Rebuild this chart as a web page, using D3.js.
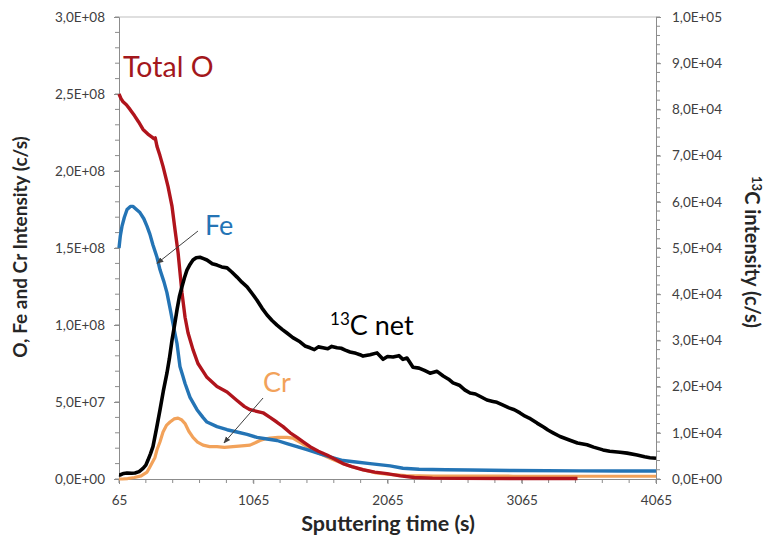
<!DOCTYPE html>
<html><head><meta charset="utf-8">
<script src="https://cdn.jsdelivr.net/npm/d3@7"></script>
<style>
body{margin:0;background:#fff}
text{font-family:Lato,'Open Sans',sans-serif}
</style>
</head><body>
<svg id="chart" width="765" height="539"></svg>
<script>
// ---- Data ----
const timeTicks = [65, 1065, 2065, 3065, 4065];
const leftTicks = [0, 5e7, 1e8, 1.5e8, 2e8, 2.5e8, 3e8];
const rightTicks = [0, 1e4, 2e4, 3e4, 4e4, 5e4, 6e4, 7e4, 8e4, 9e4, 1e5];

const oTime = [65,80,95,120,147,180,210,244,280,311,325,335,348,370,393,430,460,482,505,534,557,579,616,653,690,720,795,870,944,1000,1041,1138,1190,1240,1287,1340,1391,1440,1488,1550,1614,1670,1733,1800,1883,1970,2061,2160,2265,2400,2600,3000,3480];
const oVals = [2.50e8,2.47e8,2.45e8,2.43e8,2.40e8,2.36e8,2.32e8,2.27e8,2.24e8,2.22e8,2.21e8,2.215e8,2.16e8,2.10e8,2.03e8,1.90e8,1.77e8,1.62e8,1.47e8,1.21e8,1.05e8,0.95e8,0.84e8,0.75e8,0.70e8,0.66e8,0.60e8,0.565e8,0.51e8,0.47e8,0.45e8,0.43e8,0.40e8,0.37e8,0.34e8,0.30e8,0.27e8,0.24e8,0.21e8,0.18e8,0.156e8,0.13e8,0.10e8,0.08e8,0.06e8,0.045e8,0.035e8,0.02e8,0.01e8,0.006e8,0.004e8,0.003e8,0.003e8];

const feTime = [65,75,87,105,125,150,170,195,221,250,274,295,318,348,370,400,422,445,467,497,519,540,557,594,646,690,720,795,870,944,1019,1093,1168,1242,1316,1391,1465,1540,1630,1733,1830,1935,2084,2180,2300,2500,2680,3000,3500,3800,4065];
const feVals = [1.50e8,1.58e8,1.64e8,1.70e8,1.75e8,1.77e8,1.77e8,1.75e8,1.73e8,1.69e8,1.64e8,1.59e8,1.52e8,1.44e8,1.36e8,1.28e8,1.21e8,1.11e8,1.01e8,0.88e8,0.73e8,0.67e8,0.62e8,0.53e8,0.45e8,0.40e8,0.37e8,0.34e8,0.32e8,0.305e8,0.29e8,0.27e8,0.26e8,0.25e8,0.23e8,0.21e8,0.19e8,0.17e8,0.145e8,0.12e8,0.11e8,0.10e8,0.085e8,0.07e8,0.063e8,0.06e8,0.058e8,0.055e8,0.053e8,0.052e8,0.052e8];

const crTime = [65,90,130,180,230,274,296,333,348,370,393,420,445,475,505,530,557,585,616,650,691,740,795,850,914,980,1041,1080,1115,1150,1190,1250,1316,1360,1391,1430,1465,1520,1584,1650,1733,1800,1883,1980,2080,2200,2400,3000,3500,4065];
const crVals = [0,0,0.003e8,0.01e8,0.02e8,0.045e8,0.08e8,0.14e8,0.19e8,0.24e8,0.305e8,0.35e8,0.37e8,0.39e8,0.395e8,0.385e8,0.36e8,0.31e8,0.27e8,0.24e8,0.22e8,0.21e8,0.21e8,0.205e8,0.21e8,0.215e8,0.22e8,0.235e8,0.25e8,0.26e8,0.265e8,0.27e8,0.27e8,0.265e8,0.25e8,0.23e8,0.21e8,0.18e8,0.155e8,0.13e8,0.10e8,0.08e8,0.06e8,0.04e8,0.03e8,0.022e8,0.019e8,0.018e8,0.018e8,0.018e8];

const cTime = [65,72,100,125,160,184,215,244,265,281,300,318,345,370,395,422,440,460,480,497,515,534,552,571,595,616,640,668,695,720,760,795,830,870,905,944,980,1019,1055,1093,1130,1168,1205,1242,1280,1316,1360,1413,1450,1488,1520,1550,1584,1620,1650,1689,1720,1750,1786,1830,1860,1883,1935,1987,2032,2065,2106,2150,2180,2210,2255,2300,2340,2382,2434,2480,2520,2553,2600,2640,2680,2720,2760,2806,2850,2880,2926,2970,3010,3052,3090,3120,3179,3230,3260,3298,3350,3424,3480,3551,3600,3670,3720,3797,3850,3924,3980,4020,4065];
const cVals = [900,870,1200,1300,1250,1300,1600,2300,3000,4100,5500,7000,11000,14900,19000,22900,26000,30100,33500,36600,39500,41600,43500,45200,46500,47400,47900,48000,47700,47400,46600,46300,45900,45700,44800,43700,42600,41600,40200,38700,37000,35500,34300,33300,32400,31600,30600,29700,28800,28400,28000,28600,28400,28200,28700,28400,28300,27900,27500,27200,26900,26600,26900,27300,25900,26500,26400,26700,25900,26200,24200,24000,23500,22900,23300,22300,21600,20800,20300,19300,18600,18400,17800,17100,16800,16600,16000,15400,15000,14300,13600,13200,12100,11200,10600,10000,9200,8400,7800,7400,6900,6300,6000,5800,5600,5200,4800,4600,4500];

// ---- Layout ----
const svg = d3.select('#chart');
const L = 119, R = 656, T = 17, B = 479;
const x = d3.scaleLinear().domain([65, 4065]).range([L, R]);
const yL = d3.scaleLinear().domain([0, 3e8]).range([B, T]);
const yR = d3.scaleLinear().domain([0, 1e5]).range([B, T]);

const fmt = v => {
  if (v === 0) return '0,0E+00';
  const e = Math.floor(Math.log10(v));
  const m = v / Math.pow(10, e);
  return m.toFixed(1).replace('.', ',') + 'E+' + String(e).padStart(2, '0');
};

const axisColor = '#8c8c8c';
const labelColor = '#404040';

// top border
svg.append('line').attr('x1', L).attr('x2', R).attr('y1', T).attr('y2', T)
  .attr('stroke', '#bfbfbf').attr('stroke-width', 1);

// minor ticks
const gMinor = svg.append('g').attr('stroke', axisColor).attr('stroke-width', 1);
d3.range(0, 3e8 + 1, 1e7).forEach(v => {
  gMinor.append('line').attr('x1', L - 4).attr('x2', L).attr('y1', yL(v)).attr('y2', yL(v));
});
d3.range(0, 1e5 + 1, 2e3).forEach(v => {
  gMinor.append('line').attr('x1', R).attr('x2', R + 4).attr('y1', yR(v)).attr('y2', yR(v));
});
d3.range(65, 4066, 200).forEach(v => {
  gMinor.append('line').attr('x1', x(v)).attr('x2', x(v)).attr('y1', B).attr('y2', B + 4);
});

// axes
const axL = d3.axisLeft(yL).tickValues(leftTicks).tickFormat(fmt).tickSize(5).tickPadding(9);
const axR = d3.axisRight(yR).tickValues(rightTicks).tickFormat(fmt).tickSize(5).tickPadding(11);
const axB = d3.axisBottom(x).tickValues(timeTicks).tickFormat(d3.format('d')).tickSize(5).tickPadding(11);

function style(g) {
  g.select('.domain').attr('stroke', axisColor);
  g.selectAll('.tick line').attr('stroke', axisColor);
  g.selectAll('.tick text').attr('fill', labelColor).style('font-size', '13.5px')
    .style('font-family', "Lato,'Open Sans',sans-serif");
}
svg.append('g').attr('transform', `translate(${L},0)`).call(axL).call(style);
svg.append('g').attr('transform', `translate(${R},0)`).call(axR).call(style);
svg.append('g').attr('transform', `translate(0,${B})`).call(axB).call(style);

// series
const lineL = d3.line().x(d => x(d[0])).y(d => yL(d[1]));
const lineR = d3.line().x(d => x(d[0])).y(d => yR(d[1]));
const zip = (a, b) => a.map((t, i) => [t, b[i]]);

const series = [
  {t: crTime, v: crVals, color: '#F2A25A', gen: lineL, w: 3.2},
  {t: feTime, v: feVals, color: '#2474B5', gen: lineL, w: 3.4},
  {t: oTime, v: oVals, color: '#B0141C', gen: lineL, w: 3.4},
  {t: cTime, v: cVals, color: '#000000', gen: lineR, w: 3.6}
];
series.forEach(s => {
  svg.append('path').datum(zip(s.t, s.v)).attr('d', s.gen)
    .attr('fill', 'none').attr('stroke', s.color).attr('stroke-width', s.w)
    .attr('stroke-linejoin', 'round').attr('stroke-linecap', 'butt');
});

// annotations (anchored in data coordinates)
const defs = svg.append('defs');
defs.append('marker').attr('id', 'arr').attr('viewBox', '0 0 10 10')
  .attr('refX', 9).attr('refY', 5).attr('markerWidth', 7).attr('markerHeight', 7)
  .attr('orient', 'auto').append('path').attr('d', 'M0,1 L10,5 L0,9 z').attr('fill', '#404040');

const arrows = [
  {from: [653, 1.61e8], to: [348, 1.40e8]},
  {from: [1138, 0.526e8], to: [847, 0.234e8]}
];
arrows.forEach(a => {
  svg.append('line').attr('x1', x(a.from[0])).attr('y1', yL(a.from[1]))
    .attr('x2', x(a.to[0])).attr('y2', yL(a.to[1]))
    .attr('stroke', '#404040').attr('stroke-width', 1).attr('marker-end', 'url(#arr)');
});

const labels = [
  {text: 'Total O', t: 95, v: 2.61e8, color: '#A3171C'},
  {text: 'Fe', t: 705, v: 1.585e8, color: '#2474B5'},
  {text: 'Cr', t: 1138, v: 0.565e8, color: '#F2A25A'}
];
labels.forEach(l => {
  svg.append('text').attr('x', x(l.t)).attr('y', yL(l.v)).text(l.text)
    .attr('fill', l.color).style('font-size', l.text === 'Total O' ? '28.5px' : '27px');
});
const cl = svg.append('text').attr('x', x(1637)).attr('y', yR(31170))
  .attr('fill', '#000').style('font-size', '27px');
cl.append('tspan').text('13').attr('dy', -10).style('font-size', '17px');
cl.append('tspan').text('C net').attr('dy', 10);

// axis titles
svg.append('text').attr('transform', `translate(27,247) rotate(-90)`)
  .attr('text-anchor', 'middle').style('font-size', '19px').style('font-weight', 'bold')
  .attr('fill', '#262626').text('O, Fe and Cr Intensity (c/s)');
const rt = svg.append('text').attr('transform', `translate(745,252) rotate(90)`)
  .attr('text-anchor', 'middle').style('font-size', '20px').style('font-weight', 'bold')
  .attr('fill', '#262626');
rt.append('tspan').text('13').style('font-size', '13px').attr('dy', -7);
rt.append('tspan').text('C intensity (c/s)').attr('dy', 7);
svg.append('text').attr('x', 388).attr('y', 531)
  .attr('text-anchor', 'middle').style('font-size', '21.5px').style('font-weight', 'bold')
  .attr('fill', '#262626').text('Sputtering time (s)');
</script>
</body></html>
